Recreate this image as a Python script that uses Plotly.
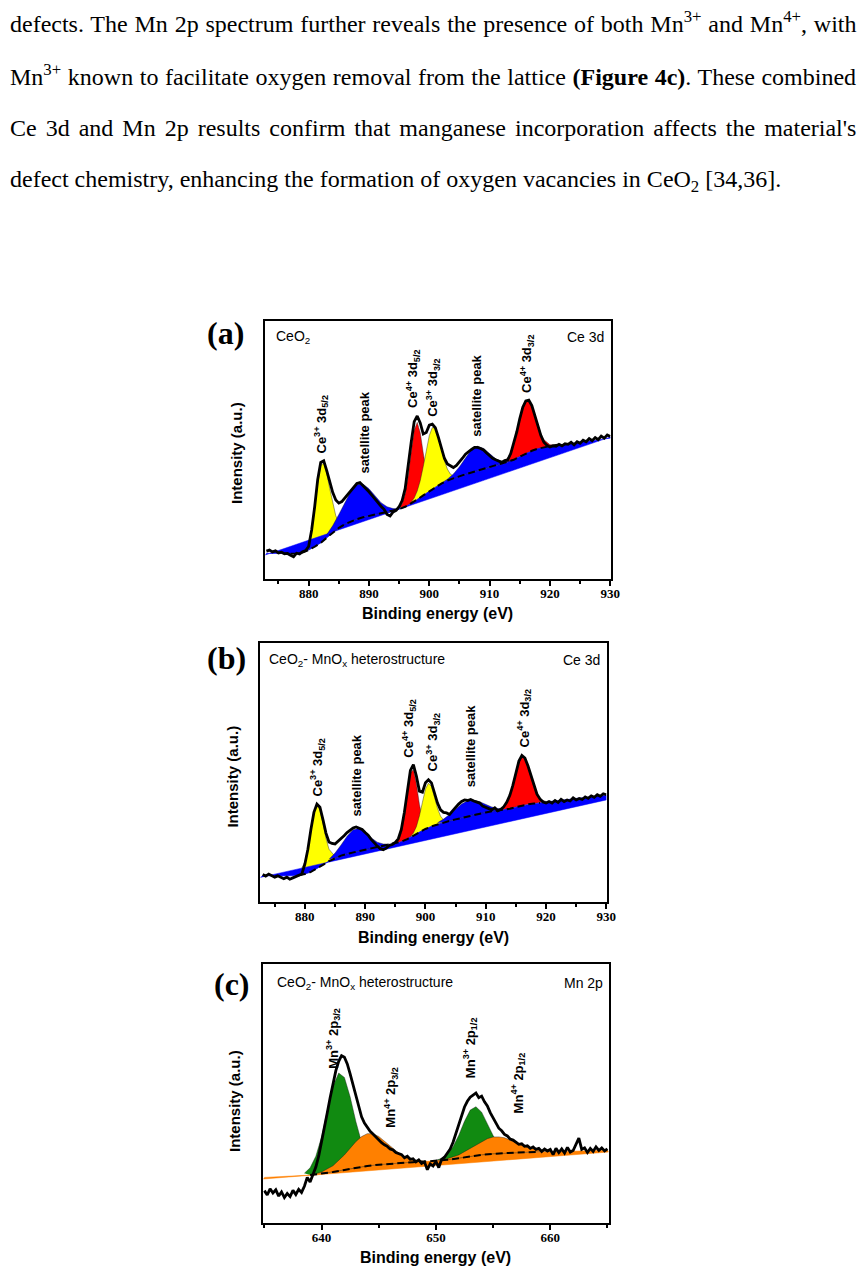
import numpy as np
import plotly.graph_objects as go

W, H = 863, 1272

# ------------------------------------------------------------------
# DATA  (intensity in arbitrary units, 0-100 = full height of each frame)
# ------------------------------------------------------------------
# ---- panel (a): CeO2, Ce 3d ----
a_xrange = [872.8, 930.05]
a_bg_start, a_bg_step = 873.0, 1.0
a_bg = [10.0, 10.0, 9.9, 9.8, 9.8, 9.9, 10.3, 11.2, 12.5, 14.0,
        16.0, 18.0, 19.8, 21.2, 22.3, 23.2, 23.9, 24.5, 25.0, 25.5,
        26.0, 26.5, 27.1, 28.0, 29.3, 30.8, 32.4, 34.0, 35.6, 37.0,
        38.2, 39.1, 39.9, 40.6, 41.3, 42.0, 42.7, 43.4, 44.0, 44.6,
        45.3, 46.2, 47.4, 48.6, 49.7, 50.5, 51.1, 51.5, 51.9, 52.2,
        52.5, 52.8, 53.1, 53.4, 53.7, 54.0, 54.3, 54.6]
a_bg_dash = [877.0, 922.0]
a_lin_e = [872.8, 930.0]
a_lin_v = [9.3, 55.0]
a_ce3_1_e = [879, 880, 880.5, 881, 881.5, 882, 882.5, 883, 883.5, 884, 884.5, 885, 886]
a_ce3_1_v = [10.5, 14.0, 19.0, 27.0, 37.0, 44.0, 45.0, 41.0, 35.0, 29.0, 24.5, 22.0, 21.2]
a_sat_1_e = [883, 884, 885, 886, 887, 888, 889, 890, 891, 892, 893, 894, 895]
a_sat_1_v = [17.2, 20.7, 25.0, 29.7, 34.0, 36.6, 36.8, 35.0, 32.2, 29.6, 28.0, 27.3, 27.2]
a_ce4_1_e = [895, 895.5, 896, 896.5, 897, 897.5, 898, 898.5, 899, 899.5, 900, 900.5, 901]
a_ce4_1_v = [27.6, 29.2, 32.9, 39.9, 49.3, 57.7, 60.7, 56.7, 48.8, 41.5, 37.3, 35.8, 35.85]
a_ce3_2_e = [897, 897.5, 898, 898.5, 899, 899.5, 900, 900.5, 901, 901.5, 902, 902.5, 903, 903.5, 904, 905]
a_ce3_2_v = [29.85, 31.4, 34.1, 38.1, 43.6, 50.0, 55.6, 58.7, 58.5, 55.2, 50.4, 45.9, 42.6, 40.65, 39.9, 39.95]
a_sat_2_e = [902, 903, 904, 905, 906, 907, 908, 909, 910, 911, 912, 913, 914]
a_sat_2_v = [37.15, 38.7, 40.7, 43.5, 46.9, 50.1, 51.45, 50.6, 48.6, 46.6, 45.6, 45.6, 46.25]
a_ce4_2_e = [912, 913, 913.5, 914, 914.5, 915, 915.5, 916, 916.5, 917, 917.5, 918, 918.5, 919, 920, 921]
a_ce4_2_v = [44.85, 46.9, 49.0, 52.3, 56.8, 61.7, 66.1, 68.9, 69.15, 67.2, 63.5, 59.6, 56.3, 54.0, 52.05, 51.95]
a_data_start, a_data_step = 873.0, 0.5
a_data = [10.8, 11.2, 10.5, 10.9, 10.1, 10.4, 9.8, 9.9, 9.2, 8.6,
          10.0, 9.7, 10.6, 11.0, 12.6, 19.0, 28.0, 38.5, 45.2, 45.8,
          42.0, 37.6, 33.5, 30.6, 29.4, 30.0, 31.4, 32.8, 34.6, 35.8,
          37.0, 37.4, 36.2, 35.4, 33.8, 32.4, 30.8, 29.6, 28.2, 27.0,
          25.0, 24.4, 26.0, 26.6, 28.0, 30.4, 35.0, 43.0, 53.0, 61.0,
          63.2, 60.5, 56.2, 56.8, 59.6, 60.0, 58.6, 55.0, 50.6, 46.8,
          44.6, 43.8, 43.2, 44.0, 45.2, 46.8, 48.4, 49.5, 50.2, 51.0,
          51.0, 50.6, 50.0, 48.8, 47.6, 46.8, 46.2, 45.6, 45.2, 45.9,
          46.2, 48.6, 52.4, 57.0, 62.2, 66.6, 69.0, 69.3, 67.2, 63.0,
          58.8, 55.6, 53.0, 51.8, 51.2, 51.6, 51.4, 52.2, 51.6, 52.4,
          52.2, 53.0, 52.0, 53.2, 52.6, 53.8, 53.2, 54.4, 53.6, 54.8,
          54.0, 55.4, 54.6, 55.8, 55.2]

# ---- panel (b): CeO2-MnOx, Ce 3d ----
b_xrange = [872.6, 930.05]
b_bg_start, b_bg_step = 873.0, 1.0
b_bg = [10.2, 10.1, 10.0, 10.0, 10.0, 10.1, 10.3, 10.8, 11.6, 12.8,
        14.3, 15.8, 17.0, 17.9, 18.6, 19.2, 19.7, 20.2, 20.7, 21.2,
        21.7, 22.2, 22.7, 23.3, 24.3, 25.6, 27.0, 28.2, 29.2, 30.0,
        30.7, 31.3, 31.9, 32.5, 33.1, 33.7, 34.2, 34.6, 35.0, 35.3,
        35.6, 36.0, 36.6, 37.2, 37.7, 38.0, 38.3, 38.6, 38.9, 39.2,
        39.5, 39.7, 40.0, 40.2, 40.5, 40.7, 41.0, 41.2]
b_bg_dash = [879.0, 919.0]
b_lin_e = [872.6, 930.0]
b_lin_v = [9.5, 39.4]
b_ce3_1_e = [879, 880, 880.5, 881, 881.5, 882, 882.5, 883, 883.5, 884, 885, 886]
b_ce3_1_v = [10.9, 15.4, 20.8, 27.8, 34.3, 37.3, 35.6, 30.5, 24.65, 20.4, 17.6, 17.9]
b_sat_1_e = [884, 885, 886, 887, 888, 889, 890, 891, 892, 893, 894]
b_sat_1_v = [16.5, 18.9, 22.0, 25.4, 27.9, 28.4, 27.0, 24.8, 23.1, 22.4, 22.4]
b_ce4_1_e = [895, 895.5, 896, 896.5, 897, 897.5, 898, 898.5, 899, 899.5, 900, 900.5]
b_ce4_1_v = [22.9, 24.0, 26.8, 32.9, 41.9, 49.8, 51.2, 45.7, 37.7, 31.9, 29.5, 29.0]
b_ce3_2_e = [897.5, 898, 898.5, 899, 899.5, 900, 900.5, 901, 901.5, 902, 902.5, 903, 903.5, 904]
b_ce3_2_v = [25.2, 26.6, 29.1, 33.2, 38.5, 43.6, 45.9, 44.6, 40.5, 36.2, 33.15, 31.7, 31.3, 31.35]
b_sat_2_e = [902, 903, 904, 905, 906, 907, 908, 909, 910, 911, 912, 913]
b_sat_2_v = [30.6, 32.0, 33.8, 35.8, 37.8, 39.1, 39.4, 38.7, 37.6, 36.7, 36.1, 35.9]
b_ce4_2_e = [912, 913, 913.5, 914, 914.5, 915, 915.5, 916, 916.5, 917, 917.5, 918, 918.5, 919, 920]
b_ce4_2_v = [35.4, 36.55, 38.1, 40.8, 44.8, 49.6, 53.9, 56.1, 55.55, 52.4, 48.15, 44.2, 41.25, 39.7, 38.8]
b_data_start, b_data_step = 873.0, 0.5
b_data = [10.6, 10.0, 10.8, 10.2, 9.6, 10.1, 9.4, 9.0, 9.6, 8.8,
          9.3, 9.9, 10.4, 10.8, 14.6, 20.4, 28.0, 34.6, 37.8, 36.6,
          31.8, 26.6, 23.2, 22.6, 22.4, 23.4, 24.4, 25.6, 26.8, 27.8,
          28.6, 29.0, 28.6, 28.0, 26.8, 25.8, 24.2, 22.8, 21.6, 20.6,
          20.2, 20.8, 21.8, 22.2, 23.0, 24.4, 28.0, 34.6, 43.4, 50.8,
          53.0, 48.6, 42.8, 42.4, 46.0, 47.2, 46.0, 42.2, 38.2, 35.6,
          34.6, 34.4, 33.8, 35.2, 36.6, 37.8, 38.8, 39.4, 39.2, 39.6,
          39.0, 38.6, 38.2, 37.0, 36.6, 36.2, 35.6, 36.4, 35.2, 35.8,
          36.8, 38.6, 41.2, 45.0, 50.0, 54.4, 56.6, 55.6, 52.6, 48.6,
          44.6, 41.6, 39.8, 38.6, 38.2, 38.8, 38.2, 39.2, 38.4, 39.6,
          38.8, 39.4, 39.0, 40.2, 39.4, 40.0, 39.6, 40.6, 40.0, 41.0,
          40.4, 41.4, 40.8, 41.8, 41.4]

# ---- panel (c): CeO2-MnOx, Mn 2p ----
c_xrange = [634.9, 665.1]
c_bg_start, c_bg_step = 635.0, 1.0
c_bg = [17.6, 17.8, 18.0, 18.2, 18.5, 19.0, 19.7, 20.5, 21.3, 22.0,
        22.5, 22.9, 23.2, 23.5, 23.7, 24.0, 24.4, 25.0, 25.7, 26.3,
        26.7, 27.0, 27.2, 27.3, 27.5, 27.6, 27.7, 27.8, 27.9, 28.0, 28.1]
c_bg_dash = [639.0, 659.0]
c_lin_e = [634.9, 665.1]
c_lin_v = [17.0, 27.4]
c_mn3_1_e = [638.5, 639, 639.5, 640, 640.5, 641, 641.5, 642, 642.5, 643, 643.5, 644, 644.5, 645]
c_mn3_1_v = [19.25, 21.3, 25.75, 33.2, 43.25, 52.8, 57.9, 56.2, 48.7, 39.2, 31.15, 26.1, 23.75, 22.9]
c_mn4_1_e = [639.5, 640, 641, 642, 643, 643.5, 644, 644.5, 645, 646, 647, 648, 649]
c_mn4_1_v = [19.05, 19.7, 22.1, 26.3, 31.4, 33.35, 34.5, 34.45, 33.4, 29.6, 26.1, 24.4, 23.9]
c_mn3_2_e = [650, 650.5, 651, 651.5, 652, 652.5, 653, 653.5, 654, 654.5, 655, 655.5, 656, 656.5, 657]
c_mn3_2_v = [24.2, 24.95, 26.5, 29.45, 33.9, 39.25, 43.6, 44.9, 42.8, 38.45, 33.8, 30.35, 28.4, 27.6, 27.3]
c_mn4_2_e = [650, 651, 652, 653, 654, 654.5, 655, 655.5, 656, 657, 658, 659, 660]
c_mn4_2_v = [24.1, 24.8, 26.3, 28.8, 31.5, 32.55, 33.2, 33.25, 32.9, 31.2, 29.2, 28.2, 27.8]
c_data_start, c_data_step = 635.0, 0.25
c_data = [12.5, 10.8, 13.2, 11.6, 12.8, 10.4, 12.0, 9.8, 11.4, 10.2, 12.6, 11.0,
          13.0, 11.8, 14.2, 17.6, 15.8, 19.0, 21.6, 25.8, 31.0, 36.4, 42.6, 48.4,
          54.0, 58.8, 62.4, 64.6, 64.0, 61.4, 57.6, 53.2, 48.8, 44.6, 41.0, 38.6,
          36.8, 35.4, 34.4, 33.2, 32.4, 31.0, 30.2, 29.6, 28.6, 28.2, 27.2, 26.8,
          26.4, 25.2, 25.8, 24.6, 24.8, 23.6, 24.4, 23.0, 23.6, 20.6, 22.8, 22.0,
          23.8, 21.4, 24.6, 25.4, 26.8, 28.6, 31.2, 34.4, 37.8, 41.6, 44.8, 47.0,
          48.6, 49.4, 50.2, 48.4, 49.0, 46.8, 45.2, 42.6, 40.4, 38.2, 36.6, 35.6,
          34.2, 33.6, 32.4, 32.0, 31.2, 30.4, 30.6, 29.6, 29.8, 28.8, 29.4, 28.4,
          28.8, 27.6, 28.6, 27.8, 28.4, 26.4, 28.8, 27.2, 28.6, 27.0, 29.2, 27.4,
          28.0, 30.2, 32.8, 28.4, 29.0, 27.2, 28.8, 27.6, 29.4, 28.0, 29.0, 27.8,
          28.6]

# tick values
ce_ticks = [880, 890, 900, 910, 920, 930]
mn_ticks = [640, 650, 660]

# ------------------------------------------------------------------
YELLOW, RED, BLUE, GREEN, ORANGE = "#FFFF00", "#FF0000", "#0000FF", "#118A11", "#FF8000"


def px2x(px):
    return px / W


def py2y(py):
    return 1 - py / H


def grid(start, step, n):
    return start + step * np.arange(n)


fig = go.Figure()


def comp_trace(ce, cv, be, bv, color, xa, ya):
    ce = np.asarray(ce, float)
    cv = np.asarray(cv, float)
    m = (be > ce[0]) & (be < ce[-1])
    xs = list(ce) + list(be[m][::-1])
    ys = list(cv) + list(bv[m][::-1])
    fig.add_trace(go.Scatter(x=xs, y=ys, mode="lines", fill="toself", fillcolor=color,
                             line=dict(color="rgba(30,30,30,0.7)", width=0.6),
                             xaxis=xa, yaxis=ya, hoverinfo="skip", showlegend=False))


def band_trace(le, lv, be, bv, color, xa, ya):
    xs = list(le) + list(be[::-1])
    ys = list(lv) + list(bv[::-1])
    fig.add_trace(go.Scatter(x=xs, y=ys, mode="lines", fill="toself", fillcolor=color,
                             line=dict(color=color, width=0.5),
                             xaxis=xa, yaxis=ya, hoverinfo="skip", showlegend=False))


def dash_trace(be, bv, rng, xa, ya):
    m = (be >= rng[0]) & (be <= rng[1])
    fig.add_trace(go.Scatter(x=be[m], y=bv[m], mode="lines",
                             line=dict(color="black", width=2, dash="7px,4px"),
                             xaxis=xa, yaxis=ya, hoverinfo="skip", showlegend=False))


def data_trace(start, step, vals, xa, ya):
    fig.add_trace(go.Scatter(x=grid(start, step, len(vals)), y=vals, mode="lines",
                             line=dict(color="black", width=2.8),
                             xaxis=xa, yaxis=ya, hoverinfo="skip", showlegend=False))


# ---- panel (a) ----
be = grid(a_bg_start, a_bg_step, len(a_bg)); bv = np.asarray(a_bg, float)
for ce, cv, col in [(a_ce3_1_e, a_ce3_1_v, YELLOW), (a_ce4_1_e, a_ce4_1_v, RED),
                    (a_ce3_2_e, a_ce3_2_v, YELLOW), (a_ce4_2_e, a_ce4_2_v, RED)]:
    comp_trace(ce, cv, be, bv, col, "x", "y")
band_trace(a_lin_e, a_lin_v, be, bv, BLUE, "x", "y")
for ce, cv in [(a_sat_1_e, a_sat_1_v), (a_sat_2_e, a_sat_2_v)]:
    comp_trace(ce, cv, be, bv, BLUE, "x", "y")
dash_trace(be, bv, a_bg_dash, "x", "y")
data_trace(a_data_start, a_data_step, a_data, "x", "y")

# ---- panel (b) ----
be = grid(b_bg_start, b_bg_step, len(b_bg)); bv = np.asarray(b_bg, float)
for ce, cv, col in [(b_ce3_1_e, b_ce3_1_v, YELLOW), (b_ce4_1_e, b_ce4_1_v, RED),
                    (b_ce3_2_e, b_ce3_2_v, YELLOW), (b_ce4_2_e, b_ce4_2_v, RED)]:
    comp_trace(ce, cv, be, bv, col, "x2", "y2")
band_trace(b_lin_e, b_lin_v, be, bv, BLUE, "x2", "y2")
for ce, cv in [(b_sat_1_e, b_sat_1_v), (b_sat_2_e, b_sat_2_v)]:
    comp_trace(ce, cv, be, bv, BLUE, "x2", "y2")
dash_trace(be, bv, b_bg_dash, "x2", "y2")
data_trace(b_data_start, b_data_step, b_data, "x2", "y2")

# ---- panel (c) ----
be = grid(c_bg_start, c_bg_step, len(c_bg)); bv = np.asarray(c_bg, float)
for ce, cv in [(c_mn3_1_e, c_mn3_1_v), (c_mn3_2_e, c_mn3_2_v)]:
    comp_trace(ce, cv, be, bv, GREEN, "x3", "y3")
band_trace(c_lin_e, c_lin_v, be, bv, ORANGE, "x3", "y3")
for ce, cv in [(c_mn4_1_e, c_mn4_1_v), (c_mn4_2_e, c_mn4_2_v)]:
    comp_trace(ce, cv, be, bv, ORANGE, "x3", "y3")
dash_trace(be, bv, c_bg_dash, "x3", "y3")
data_trace(c_data_start, c_data_step, c_data, "x3", "y3")

# ------------------------------------------------------------------
# axes
# ------------------------------------------------------------------
frames = {  # left, right, top, bottom in pixels
    "a": (268, 617, 321, 579),
    "b": (263, 613, 643, 902),
    "c": (266, 615, 964, 1223),
}


def xaxis_cfg(fr, rng, ticks, anchor):
    l, r, t, b = fr
    return dict(domain=[px2x(l), px2x(r)], range=rng, anchor=anchor,
                showline=True, linecolor="black", linewidth=2, mirror=True,
                ticks="outside", ticklen=5, tickwidth=1.6, tickcolor="black",
                tickmode="array", tickvals=ticks, ticktext=[str(t) for t in ticks],
                ticklabelstandoff=-4,
                tickfont=dict(family="Liberation Serif", size=13, color="black", weight="bold"),
                minor=dict(dtick=5, tick0=0, ticks="outside", ticklen=3, tickwidth=1.6,
                           tickcolor="black", showgrid=False),
                showgrid=False, zeroline=False, fixedrange=True)


def yaxis_cfg(fr, anchor):
    l, r, t, b = fr
    return dict(domain=[py2y(b), py2y(t)], range=[0, 100], anchor=anchor,
                showline=True, linecolor="black", linewidth=2, mirror=True,
                ticks="", showticklabels=False, showgrid=False, zeroline=False,
                fixedrange=True)


ann = []


def A(**kw):
    d = dict(showarrow=False)
    d.update(kw)
    ann.append(d)


SANS = "Liberation Sans"
SERIF = "Liberation Serif"

# peak labels (rotated), placed in data coordinates
peak_labels = [
    ("x", "y", 882.1, 60.0, "Ce<sup>3+</sup> 3d<sub>5/2</sub>"),
    ("x", "y", 889.2, 56.8, "satellite peak"),
    ("x", "y", 897.2, 77.7, "Ce<sup>4+</sup> 3d<sub>5/2</sub>"),
    ("x", "y", 900.5, 74.2, "Ce<sup>3+</sup> 3d<sub>3/2</sub>"),
    ("x", "y", 907.7, 70.9, "satellite peak"),
    ("x", "y", 916.1, 83.5, "Ce<sup>4+</sup> 3d<sub>3/2</sub>"),
    ("x2", "y2", 882.0, 51.9, "Ce<sup>3+</sup> 3d<sub>5/2</sub>"),
    ("x2", "y2", 888.6, 48.7, "satellite peak"),
    ("x2", "y2", 897.3, 67.0, "Ce<sup>4+</sup> 3d<sub>5/2</sub>"),
    ("x2", "y2", 901.2, 61.5, "Ce<sup>3+</sup> 3d<sub>3/2</sub>"),
    ("x2", "y2", 907.5, 60.0, "satellite peak"),
    ("x2", "y2", 916.4, 71.0, "Ce<sup>4+</sup> 3d<sub>3/2</sub>"),
    ("x3", "y3", 641.0, 71.5, "Mn<sup>3+</sup> 2p<sub>3/2</sub>"),
    ("x3", "y3", 646.1, 48.5, "Mn<sup>4+</sup> 2p<sub>3/2</sub>"),
    ("x3", "y3", 653.0, 67.6, "Mn<sup>3+</sup> 2p<sub>1/2</sub>"),
    ("x3", "y3", 657.2, 54.0, "Mn<sup>4+</sup> 2p<sub>1/2</sub>"),
]
for xa, ya, xv, yv, txt in peak_labels:
    A(xref=xa, yref=ya, x=xv, y=yv, text=txt, textangle=-90,
      xanchor="center", yanchor="middle",
      font=dict(family=SANS, size=13, color="black", weight="bold"))

# corner labels
corner = [
    (277, 337, "left", "CeO<sub>2</sub>"), (612, 337, "right", "Ce 3d"),
    (270, 660, "left", "CeO<sub>2</sub>- MnO<sub>x</sub> heterostructure"), (608, 660, "right", "Ce 3d"),
    (278, 983, "left", "CeO<sub>2</sub>- MnO<sub>x</sub> heterostructure"), (611, 983, "right", "Mn 2p"),
]
for px, py, xa, txt in corner:
    A(xref="paper", yref="paper", x=px2x(px), y=py2y(py), text=txt, xanchor=xa,
      yanchor="middle", font=dict(family=SANS, size=14, color="black"))

# panel letters
for px, py, txt in [(228, 333, "(a)"), (229, 658, "(b)"), (234, 984, "(c)")]:
    A(xref="paper", yref="paper", x=px2x(px), y=py2y(py), text=txt,
      xanchor="center", yanchor="middle",
      font=dict(family=SERIF, size=32, color="black", weight="bold"))

# axis titles
for px, py in [(442.5, 613), (438, 937), (440.5, 1257)]:
    A(xref="paper", yref="paper", x=px2x(px), y=py2y(py), text="Binding energy (eV)",
      xanchor="center", yanchor="middle",
      font=dict(family=SANS, size=16, color="black", weight="bold"))
for px, py in [(238.5, 453), (235, 777), (236.5, 1101)]:
    A(xref="paper", yref="paper", x=px2x(px), y=py2y(py), text="Intensity (a.u.)",
      textangle=-90, xanchor="center", yanchor="middle",
      font=dict(family=SANS, size=15, color="black", weight="bold"))

# ------------------------------------------------------------------
# paragraph text above the figure (one annotation per line, justified
# through CSS word-spacing computed from Times metrics)
# ------------------------------------------------------------------
TNR = {" ": 250, "a": 444, "b": 500, "c": 444, "d": 500, "e": 444, "f": 333, "g": 500,
       "h": 500, "i": 278, "j": 278, "k": 500, "l": 278, "m": 778, "n": 500, "o": 500,
       "p": 500, "q": 500, "r": 333, "s": 389, "t": 278, "u": 500, "v": 500, "w": 722,
       "x": 500, "y": 500, "z": 444, "A": 722, "C": 667, "F": 556, "M": 889, "O": 722,
       "T": 611, ".": 250, ",": 250, "'": 180, "(": 333, ")": 333, "[": 333, "]": 333,
       "+": 564, "-": 333}
for d in "0123456789":
    TNR[d] = 500
TNR_B = dict(TNR)
TNR_B.update({"F": 611, "u": 556, "r": 444})

# each line: list of (text, kind) segments; kind r=regular, b=bold, sup, sub
para_lines = [
    [("defects. The Mn 2p spectrum further reveals the presence of both Mn", "r"), ("3+", "sup"),
     (" and Mn", "r"), ("4+", "sup"), (", with", "r")],
    [("Mn", "r"), ("3+", "sup"), (" known to facilitate oxygen removal from the lattice ", "r"),
     ("(Figure 4c)", "b"), (". These combined", "r")],
    [("Ce 3d and Mn 2p results confirm that manganese incorporation affects the material's", "r")],
    [("defect chemistry, enhancing the formation of oxygen vacancies in CeO", "r"), ("2", "sub"),
     (" [34,36].", "r")],
]
para_mid = [22, 75, 128, 181]
PF = 24
PX0, PX1 = 8, 855


def seg_width(t, kind):
    tab = TNR_B if kind == "b" else TNR
    sc = 0.7 if kind in ("sup", "sub") else 1.0
    return sum(tab.get(ch, 500) for ch in t) * PF * sc / 1000.0


for li, segs in enumerate(para_lines):
    natural = sum(seg_width(t, k) for t, k in segs)
    nspace = sum(t.count(" ") for t, k in segs)
    justify = li < len(para_lines) - 1
    ws = (PX1 - PX0 - natural) / nspace if justify else 0.0
    html = ""
    for t, k in segs:
        if k == "b":
            html += "<b>" + t + "</b>"
        elif k == "sup":
            html += "<sup>" + t + "</sup>"
        elif k == "sub":
            html += "<sub>" + t + "</sub>"
        else:
            html += t
    if ws > 0:
        html = '<span style="word-spacing:%.2fpx">%s</span>' % (ws, html)
    A(xref="paper", yref="paper", x=px2x(PX0), y=py2y(para_mid[li]), text=html,
      xanchor="left", yanchor="middle", align="left",
      font=dict(family=SERIF, size=PF, color="black"))

fig.update_layout(
    width=W, height=H, margin=dict(l=0, r=0, t=0, b=0),
    paper_bgcolor="white", plot_bgcolor="white", showlegend=False,
    xaxis=xaxis_cfg(frames["a"], a_xrange, ce_ticks, "y"),
    yaxis=yaxis_cfg(frames["a"], "x"),
    xaxis2=xaxis_cfg(frames["b"], b_xrange, ce_ticks, "y2"),
    yaxis2=yaxis_cfg(frames["b"], "x2"),
    xaxis3=xaxis_cfg(frames["c"], c_xrange, mn_ticks, "y3"),
    yaxis3=yaxis_cfg(frames["c"], "x3"),
    annotations=ann,
)

fig.write_html("out.html", config={"displayModeBar": False})
